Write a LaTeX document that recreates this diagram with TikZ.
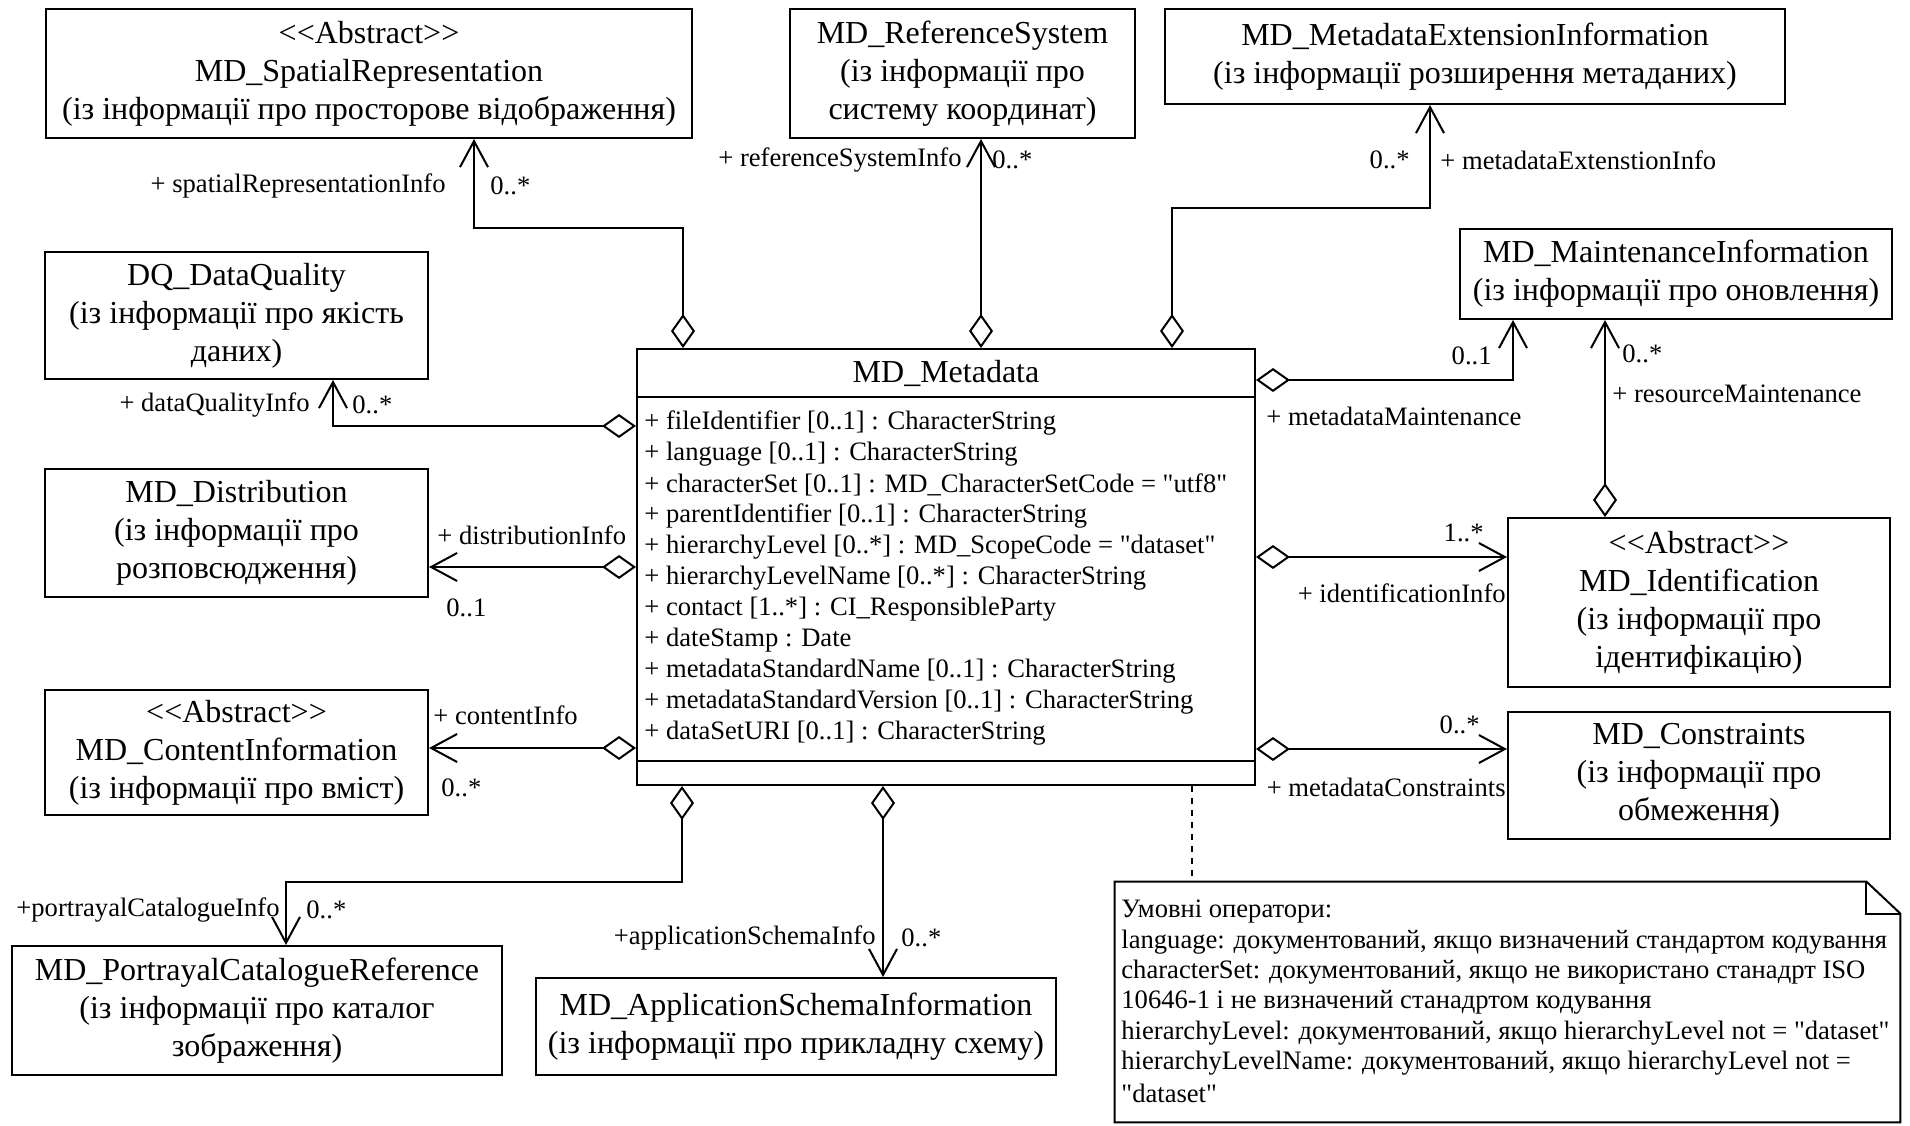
\documentclass[tikz,border=0pt]{standalone}
\usepackage{fontspec}
\setmainfont{Liberation Serif}[Ligatures=TeXOff]
\usetikzlibrary{arrows.meta}

\tikzset{
  cls/.style={draw, line width=1pt, align=center, inner sep=2pt, font=\fontsize{16}{19}\selectfont},
  role/.style={inner sep=0pt, font=\fontsize{13.3}{15.5}\selectfont},
  aggr/.style={line width=1pt, {Diamond[open,length=17pt,width=12pt]}-{Straight Barb[length=13pt,width=14pt]}},
}

\begin{document}
\begin{tikzpicture}[x=0.5pt, y=-0.5pt]
    \useasboundingbox (0,0) rectangle (1910,1125);

    % classes round the centre
    \node[cls, minimum width=323pt, minimum height=64.5pt] (spatial) at (369,73.5) {<<Abstract>>\\MD\_SpatialRepresentation\\(із інформації про просторове відображення)};
    \node[cls, minimum width=172.5pt, minimum height=64.5pt] (refsys) at (962.5,73.5) {MD\_ReferenceSystem\\(із інформації про\\систему координат)};
    \node[cls, minimum width=310pt, minimum height=47.5pt] (ext) at (1475,56.5) {MD\_MetadataExtensionInformation\\(із інформації розширення метаданих)};
    \node[cls, minimum width=216pt, minimum height=45pt] (maint) at (1676,274) {MD\_MaintenanceInformation\\(із інформації про оновлення)};
    \node[cls, minimum width=191.5pt, minimum height=63.5pt] (dq) at (236.5,315.5) {DQ\_DataQuality\\(із інформації про якість\\даних)};
    \node[cls, minimum width=191.5pt, minimum height=64pt] (dist) at (236.5,533) {MD\_Distribution\\(із інформації про\\розповсюдження)};
    \node[cls, minimum width=191.5pt, minimum height=62.5pt] (content) at (236.5,752.5) {<<Abstract>>\\MD\_ContentInformation\\(із інформації про вміст)};
    \node[cls, minimum width=245pt, minimum height=64.5pt] (portrayal) at (257,1010.5) {MD\_PortrayalCatalogueReference\\(із інформації про каталог\\зображення)};
    \node[cls, minimum width=260pt, minimum height=48.5pt] (appschema) at (796,1026.5) {MD\_ApplicationSchemaInformation\\(із інформації про прикладну схему)};
    \node[cls, minimum width=191pt, minimum height=84.5pt] (ident) at (1699,602.5) {<<Abstract>>\\MD\_Identification\\(із інформації про\\ідентифікацію)};
    \node[cls, minimum width=191pt, minimum height=63.5pt] (constr) at (1699,775.5) {MD\_Constraints\\(із інформації про\\обмеження)};

    % MD_Metadata
    \node[draw, line width=1pt, minimum width=309pt, minimum height=218pt] (meta) at (946,567) {};
    \node[font=\fontsize{16}{19}\selectfont] (metatitle) at (946,373) {MD\_Metadata};
    \draw[line width=1pt] (meta.west |- 0,397) -- (meta.east |- 0,397);
    \draw[line width=1pt] (meta.west |- 0,761) -- (meta.east |- 0,761);
    \foreach \attr [count=\i from 0] in {
        {+ fileIdentifier [0..1] : CharacterString},
        {+ language [0..1] : CharacterString},
        {+ characterSet [0..1] : MD\_CharacterSetCode = "utf8"},
        {+ parentIdentifier [0..1] : CharacterString},
        {+ hierarchyLevel [0..*] : MD\_ScopeCode = "dataset"},
        {+ hierarchyLevelName [0..*] : CharacterString},
        {+ contact [1..*] : CI\_ResponsibleParty},
        {+ dateStamp : Date},
        {+ metadataStandardName [0..1] : CharacterString},
        {+ metadataStandardVersion [0..1] : CharacterString},
        {+ dataSetURI [0..1] : CharacterString}}
        \node[role, anchor=west] (attr\i) at (644,{423+31*\i}) {\attr};

    % note
    \node[minimum width=392.5pt, minimum height=120pt, inner sep=0pt] (note) at (1507.5,1002) {};
    \draw[line width=1pt] (note.north west) -- ([xshift=-17pt]note.north east) -- ([yshift=-16pt]note.north east) -- (note.south east) -- (note.south west) -- cycle;
    \draw[line width=1pt] ([xshift=-17pt]note.north east) |- ([yshift=-16pt]note.north east);
    \foreach \txt [count=\i from 0] in {
        {Умовні оператори:},
        {language: документований, якщо визначений стандартом кодування},
        {characterSet: документований, якщо не використано станадрт ISO},
        {10646-1 і не визначений станадртом кодування},
        {hierarchyLevel: документований, якщо hierarchyLevel not = "dataset"},
        {hierarchyLevelName: документований, якщо hierarchyLevel not =},
        {"dataset"}}
        \node[role, anchor=west] (noteline\i) at (1121,{912+30.2*\i}) {\txt};
    \draw[line width=1pt, dashed] (meta.south -| 1192,0) -- (note.north -| 1192,0);

    % aggregations
    \draw[aggr] (meta.north -| 683,0) |- (474,228) -- (spatial.south -| 474,0);
    \node[role, anchor=east] (spatialrole) at (446,186) {+ spatialRepresentationInfo};
    \node[role, anchor=west] (spatialmult) at (490,186) {0..*};

    \draw[aggr] (meta.north -| 981,0) -- (refsys.south -| 981,0);
    \node[role, anchor=east] (refrole) at (962,160) {+ referenceSystemInfo};
    \node[role, anchor=west] (refmult) at (992,160) {0..*};

    \draw[aggr] (meta.north -| 1172,0) |- (1430,208) -- (ext.south -| 1430,0);
    \node[role, anchor=east] (extmult) at (1410,160) {0..*};
    \node[role, anchor=west] (extrole) at (1440,160) {+ metadataExtenstionInfo};

    \draw[aggr] (meta.east |- 0,380) -| (maint.south -| 1513,0);
    \node[role, anchor=east] (maintmult) at (1492,356) {0..1};
    \node[role, anchor=west] (maintrole) at (1266,416) {+ metadataMaintenance};

    \draw[aggr] (ident.north -| 1605,0) -- (maint.south -| 1605,0);
    \node[role, anchor=west] (resmult) at (1622,354) {0..*};
    \node[role, anchor=west] (resrole) at (1612,394) {+ resourceMaintenance};

    \draw[aggr] (meta.east |- 0,557) -- (ident.west |- 0,557);
    \node[role, anchor=east] (identmult) at (1484,533) {1..*};
    \node[role, anchor=east] (identrole) at (1506,593) {+ identificationInfo};

    \draw[aggr] (meta.east |- 0,749) -- (constr.west |- 0,749);
    \node[role, anchor=east] (constrmult) at (1480,725) {0..*};
    \node[role, anchor=east] (constrrole) at (1506,787) {+ metadataConstraints};

    \draw[aggr] (meta.west |- 0,426) -| (dq.south -| 333,0);
    \node[role, anchor=east] (dqrole) at (310,405) {+ dataQualityInfo};
    \node[role, anchor=west] (dqmult) at (352,405) {0..*};

    \draw[aggr] (meta.west |- 0,567) -- (dist.east |- 0,567);
    \node[role, anchor=west] (distrole) at (437,535) {+ distributionInfo};
    \node[role, anchor=west] (distmult) at (446,608) {0..1};

    \draw[aggr] (meta.west |- 0,748) -- (content.east |- 0,748);
    \node[role, anchor=west] (controle) at (433,715) {+ contentInfo};
    \node[role, anchor=west] (contmult) at (441,788) {0..*};

    \draw[aggr] (meta.south -| 682,0) |- (286,882) -- (portrayal.north -| 286,0);
    \node[role, anchor=east] (portrole) at (280,910) {+portrayalCatalogueInfo};
    \node[role, anchor=west] (portmult) at (306,910) {0..*};

    \draw[aggr] (meta.south -| 883,0) -- (appschema.north -| 883,0);
    \node[role, anchor=east] (approle) at (876,938) {+applicationSchemaInfo};
    \node[role, anchor=west] (appmult) at (901,938) {0..*};
\end{tikzpicture}
\end{document}
